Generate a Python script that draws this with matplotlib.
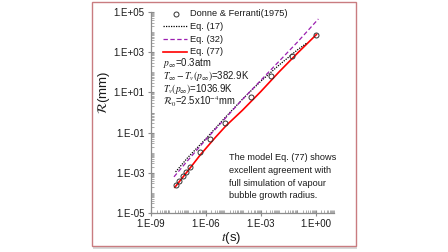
import numpy as np
import matplotlib
matplotlib.use("Agg")
import matplotlib.pyplot as plt
import matplotlib.ticker as mticker
from matplotlib.patches import Rectangle

# Donne & Ferranti (1975) data points
exp_t = [2.3e-8, 3.5e-8, 5.6e-8, 8.7e-8, 1.35e-7, 4.9e-7, 1.58e-6, 1.12e-5,
         3.09e-4, 3.8e-3, 5.25e-2, 1.1]
exp_R = [2.5e-4, 4.0e-4, 6.6e-4, 1.1e-3, 2.0e-3, 1.05e-2, 4.7e-2, 0.30,
         5.6, 63, 660, 7200]

# Eq. (17)
eq17_t = [2.2e-8, 1e-7, 1e-6, 1e-5, 1e-4, 1e-3, 1e-2, 0.1, 0.32]
eq17_R = [1.1e-3, 5.6e-3, 5.0e-2, 0.5, 4.6, 36, 230, 1300, 2800]

# Eq. (32)
eq32_t = [1.8e-8, 1e-7, 1e-6, 1e-5, 1e-4, 1e-3, 1e-2, 0.1, 1.4]
eq32_R = [6.3e-4, 4.0e-3, 4.5e-2, 0.45, 4.5, 40, 355, 3160, 45000]

# Eq. (77)
eq77_t = [2.0e-8, 1e-7, 5.0e-7, 3.2e-6, 1.26e-5, 1e-4, 1e-3, 1e-2, 0.1, 1.1]
eq77_R = [1.9e-4, 1.2e-3, 7.9e-3, 5.6e-2, 0.22, 1.3, 11, 105, 890, 7600]

plt.rcParams['font.family'] = ['Liberation Sans', 'DejaVu Sans']
plt.rcParams['mathtext.fontset'] = 'stix'

fig = plt.figure(figsize=(4.48, 2.52), dpi=100)

# framed panel with a soft shadow (behind the axes)
W, H = 448.0, 252.0
fig.patches.append(Rectangle((93 / W, 1 - 249 / H), 264 / W, 246 / H, transform=fig.transFigure,
                             facecolor='#d9d9d9', edgecolor='none', zorder=-2))
fig.patches.append(Rectangle((92 / W, 1 - 246 / H), 264 / W, 244 / H, transform=fig.transFigure,
                             facecolor='white', edgecolor='#c97c80', linewidth=1.0, zorder=-1))

ax = fig.add_axes([151 / W, 1 - 213 / H, 183 / W, 201 / H])
ax.set_facecolor('none')

ax.plot(eq77_t, eq77_R, color='#ff0000', linewidth=1.2, zorder=3)
ax.plot(eq17_t, eq17_R, color='black', linestyle=(0, (1, 1)), linewidth=0.9, zorder=4)
ax.plot(eq32_t, eq32_R, color='#9b1fb0', linestyle=(0, (3.5, 2)), linewidth=0.9, zorder=4)
ax.plot(exp_t, exp_R, linestyle='none', marker='o', markersize=3.6,
        markerfacecolor='none', markeredgecolor='#333333', markeredgewidth=0.7, zorder=5)

ax.set_xscale('log')
ax.set_yscale('log')
ax.set_xlim(1e-9, 1e1)
ax.set_ylim(1e-5, 1e5)

ax.xaxis.set_major_locator(mticker.FixedLocator([1e-9, 1e-6, 1e-3, 1e0]))
ax.yaxis.set_major_locator(mticker.FixedLocator([1e-5, 1e-3, 1e-1, 1e1, 1e3, 1e5]))
ax.xaxis.set_minor_locator(mticker.LogLocator(base=10, subs=np.arange(1, 10), numticks=100))
ax.yaxis.set_minor_locator(mticker.LogLocator(base=10, subs=np.arange(1, 10), numticks=100))
ax.xaxis.set_minor_formatter(mticker.NullFormatter())
ax.yaxis.set_minor_formatter(mticker.NullFormatter())
ax.set_xticklabels(['1.E-09', '1.E-06', '1.E-03', '1.E+00'])
ax.set_yticklabels(['1.E-05', '1.E-03', '1.E-01', '1.E+01', '1.E+03', '1.E+05'])

for s in ['top', 'right']:
    ax.spines[s].set_visible(False)
for s in ['left', 'bottom']:
    ax.spines[s].set_color('#8c8c8c')
    ax.spines[s].set_linewidth(0.9)

ax.tick_params(which='major', direction='inout', length=5, width=0.8, color='#8c8c8c',
               labelsize=7, pad=2, labelcolor='#1a1a1a')
ax.tick_params(which='minor', direction='in', length=2, width=0.5, color='#8c8c8c')

ax.set_xlabel('$t$(s)', fontsize=9.5, color='#1a1a1a')
ax.xaxis.set_label_coords(0.44, -0.085)
ax.set_ylabel(r'$\mathcal{R}$(mm)', fontsize=9.5, color='#1a1a1a')
ax.yaxis.set_label_coords(-0.215, 0.6)

# legend drawn by hand in the top-left corner
tr = ax.transAxes
def px(x, y):
    return ((x - 151) / 183.0, (213 - y) / 201.0)

rows = [14, 26.5, 39, 52]
ax.plot(*px(176, rows[0]), transform=tr, marker='o', markersize=3.6, markerfacecolor='none',
        markeredgecolor='#333333', markeredgewidth=0.7, clip_on=False)
x0, _ = px(163, 0)
x1, _ = px(187, 0)
ax.plot([x0, x1], [px(0, rows[1])[1]] * 2, transform=tr, color='black',
        linestyle=(0, (1, 1)), linewidth=0.9, clip_on=False)
ax.plot([x0, x1], [px(0, rows[2])[1]] * 2, transform=tr, color='#9b1fb0',
        linestyle=(0, (3.5, 2)), linewidth=0.9, clip_on=False)
ax.plot([x0, x1], [px(0, rows[3])[1]] * 2, transform=tr, color='#ff0000',
        linewidth=1.2, clip_on=False)
labels = ['Donne & Ferranti(1975)', 'Eq. (17)', 'Eq. (32)', 'Eq. (77)']
for y, lab in zip(rows, labels):
    ax.text(*px(190, y), lab, transform=tr, fontsize=6.7, va='center', ha='left', color='#1a1a1a')

params = [r'$p_\infty$=0.3atm',
          r'$T_\infty-T_v(p_\infty)$=382.9K',
          r'$T_v(p_\infty)$=1036.9K',
          r'$\mathcal{R}_0$=2.5x10$^{-4}$mm']
for y, lab in zip([63, 76, 89, 102], params):
    ax.text(*px(163, y), lab, transform=tr, fontsize=6.9, va='center', ha='left', color='#1a1a1a')

note = ['The model Eq. (77) shows', 'excellent agreement with',
        'full simulation of vapour', 'bubble growth radius.']
for y, lab in zip([158, 170.5, 183, 195.5], note):
    ax.text(*px(229, y), lab, transform=tr, fontsize=6.6, va='center', ha='left', color='#1a1a1a')

fig.savefig('out.png', dpi=100)
